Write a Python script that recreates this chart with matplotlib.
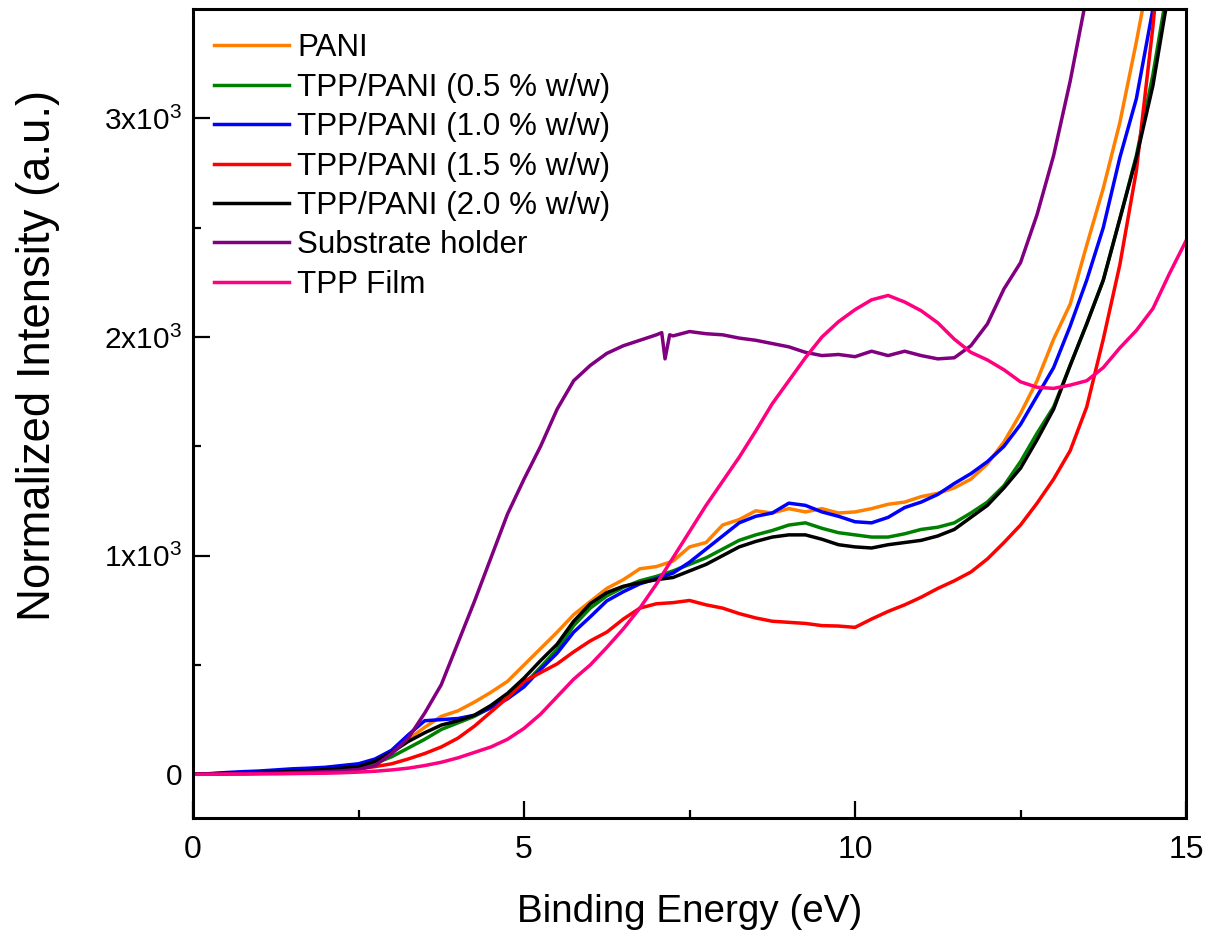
import numpy as np
import matplotlib
matplotlib.use("Agg")
import matplotlib.pyplot as plt
from matplotlib.ticker import FixedLocator, FuncFormatter

plt.rcParams["font.family"] = ["Liberation Sans", "DejaVu Sans"]
plt.rcParams["mathtext.fontset"] = "custom"
plt.rcParams["mathtext.rm"] = "Liberation Sans"
plt.rcParams["mathtext.it"] = "Liberation Sans:italic"

# Binding-energy grid shared by the sample spectra (eV)
energy = np.linspace(0.0, 15.0, 61)

pani = [0, 2, 5, 8, 12, 15, 20, 25, 30, 38, 45, 65, 95, 160, 215, 265,
        290, 330, 375, 425, 500, 575, 650, 730, 790, 850, 890, 940, 950, 975,
        1040, 1060, 1140, 1165, 1205, 1195, 1215, 1200, 1215, 1195, 1200, 1215,
        1235, 1245, 1270, 1285, 1310, 1350, 1420, 1520, 1650, 1800, 1990, 2150,
        2420, 2680, 2980, 3350, 3750, 4100, 4500]

tpp_pani_05 = [0, 2, 4, 6, 8, 10, 13, 16, 20, 25, 32, 50, 80, 120, 160, 205,
               235, 265, 305, 350, 410, 490, 572, 680, 760, 816, 855, 885, 905,
               930, 960, 990, 1030, 1070, 1095, 1115, 1140, 1150, 1125, 1105,
               1095, 1085, 1085, 1100, 1120, 1130, 1150, 1195, 1245, 1320, 1430,
               1560, 1680, 1870, 2060, 2260, 2540, 2830, 3200, 3650, 4100]

tpp_pani_10 = [0, 3, 8, 12, 15, 20, 25, 28, 32, 40, 48, 70, 110, 180, 245,
               250, 255, 270, 305, 345, 400, 480, 554, 650, 720, 793, 835, 871,
               895, 920, 970, 1030, 1090, 1150, 1180, 1195, 1240, 1230, 1200,
               1180, 1155, 1150, 1175, 1220, 1245, 1280, 1330, 1375, 1430, 1500,
               1600, 1730, 1860, 2050, 2260, 2500, 2820, 3090, 3500, 3900, 4300]

tpp_pani_15 = [0, 1, 2, 3, 4, 5, 7, 9, 12, 18, 25, 35, 48, 70, 95, 125, 165,
               220, 285, 350, 425, 465, 505, 560, 610, 650, 710, 760, 780, 785,
               795, 775, 760, 735, 715, 700, 695, 690, 680, 678, 672, 710, 745,
               775, 810, 850, 885, 925, 985, 1060, 1140, 1240, 1350, 1480, 1680,
               1990, 2330, 2760, 3420, 4200, 5000]

tpp_pani_20 = [0, 2, 4, 6, 8, 10, 13, 17, 22, 28, 35, 60, 100, 150, 190, 225,
               245, 270, 315, 370, 440, 520, 595, 700, 780, 831, 860, 876, 890,
               900, 930, 960, 1000, 1040, 1065, 1085, 1095, 1095, 1075, 1050,
               1040, 1035, 1050, 1060, 1070, 1090, 1120, 1175, 1230, 1310, 1400,
               1530, 1670, 1870, 2060, 2260, 2540, 2820, 3150, 3600, 4050]

tpp_film = [0, 0, 1, 1, 2, 2, 3, 4, 5, 7, 10, 14, 20, 28, 40, 55, 75, 100,
            125, 160, 210, 275, 355, 435, 500, 580, 665, 760, 870, 990, 1110,
            1230, 1340, 1450, 1570, 1695, 1800, 1905, 2000, 2070, 2125, 2170,
            2190, 2160, 2120, 2065, 1990, 1930, 1895, 1850, 1795, 1770, 1765,
            1780, 1800, 1860, 1950, 2030, 2130, 2290, 2440]

# Substrate holder spectrum, sampled more finely around the glitch near 7.1 eV
holder_energy = [0.0, 0.25, 0.5, 0.75, 1.0, 1.25, 1.5, 1.75, 2.0, 2.25, 2.5,
                 2.75, 3.0, 3.25, 3.5, 3.75, 4.0, 4.25, 4.5, 4.75, 5.0, 5.25,
                 5.5, 5.75, 6.0, 6.25, 6.5, 6.75, 7.0, 7.08, 7.13, 7.2, 7.25,
                 7.5, 7.75, 8.0, 8.25, 8.5, 8.75, 9.0, 9.25, 9.5, 9.75, 10.0,
                 10.25, 10.5, 10.75, 11.0, 11.25, 11.5, 11.75, 12.0, 12.25, 12.5,
                 12.75, 13.0, 13.25, 13.5, 13.75, 14.0]
holder = [0, 1, 2, 3, 4, 5, 7, 9, 12, 16, 22, 40, 95, 165, 280, 410, 600, 790,
          990, 1190, 1350, 1500, 1670, 1800, 1870, 1925, 1960, 1985, 2010, 2020,
          1900, 2010, 2005, 2025, 2015, 2010, 1995, 1985, 1970, 1955, 1930,
          1915, 1920, 1910, 1935, 1915, 1935, 1915, 1900, 1905, 1960, 2060,
          2220, 2340, 2560, 2830, 3170, 3560, 3900, 4300]

labels = ["PANI", "TPP/PANI (0.5 % w/w)", "TPP/PANI (1.0 % w/w)",
          "TPP/PANI (1.5 % w/w)", "TPP/PANI (2.0 % w/w)", "Substrate holder",
          "TPP Film"]
colors = ["#FF8000", "#008000", "#0000FF", "#FF0000", "#000000", "#800080",
          "#FF0080"]

y_ticks = [0, 1000, 2000, 3000]
y_minor = [500, 1500, 2500]
x_ticks = [0, 5, 10, 15]
x_minor = [2.5, 7.5, 12.5]

fig = plt.figure(figsize=(12.08, 9.32), dpi=100)
ax = fig.add_axes([0.1598, 0.1223, 0.8220, 0.8680])

series = [(energy, pani), (energy, tpp_pani_05), (energy, tpp_pani_10),
          (energy, tpp_pani_15), (energy, tpp_pani_20),
          (holder_energy, holder), (energy, tpp_film)]
for (xs, ys), lab, col in zip(series, labels, colors):
    ax.plot(xs, ys, color=col, lw=2.5, label=lab)

ax.set_xlim(0, 15)
ax.set_ylim(-200, 3500)

ax.xaxis.set_major_locator(FixedLocator(x_ticks))
ax.xaxis.set_minor_locator(FixedLocator(x_minor))
ax.yaxis.set_major_locator(FixedLocator(y_ticks))
ax.yaxis.set_minor_locator(FixedLocator(y_minor))
ax.xaxis.set_major_formatter(FuncFormatter(lambda v, p: f"{v:g}"))


def sci(v, p):
    if v == 0:
        return "0"
    return r"$\mathregular{%dx10^3}$" % round(v / 1000)


ax.yaxis.set_major_formatter(FuncFormatter(sci))

ax.tick_params(which="both", direction="in", width=1.6, top=False,
               right=False)
ax.tick_params(axis="x", labelsize=23, pad=12)
ax.tick_params(axis="y", labelsize=21.5, pad=8)
ax.tick_params(which="major", length=12)
ax.tick_params(which="minor", length=6)
for s in ax.spines.values():
    s.set_linewidth(2.2)

ax.set_xlabel("Binding Energy (eV)", fontsize=27.8, labelpad=21)
ax.set_ylabel("Normalized Intensity (a.u.)", fontsize=32.8)
ax.yaxis.set_label_coords(-0.134, 0.572)

ax.legend(loc="upper left", bbox_to_anchor=(0.021, 0.970), frameon=False,
          fontsize=22.6, handlelength=2.4, handletextpad=0.25,
          labelspacing=0.3, borderpad=0, borderaxespad=0)

fig.savefig("out.png", dpi=100)
